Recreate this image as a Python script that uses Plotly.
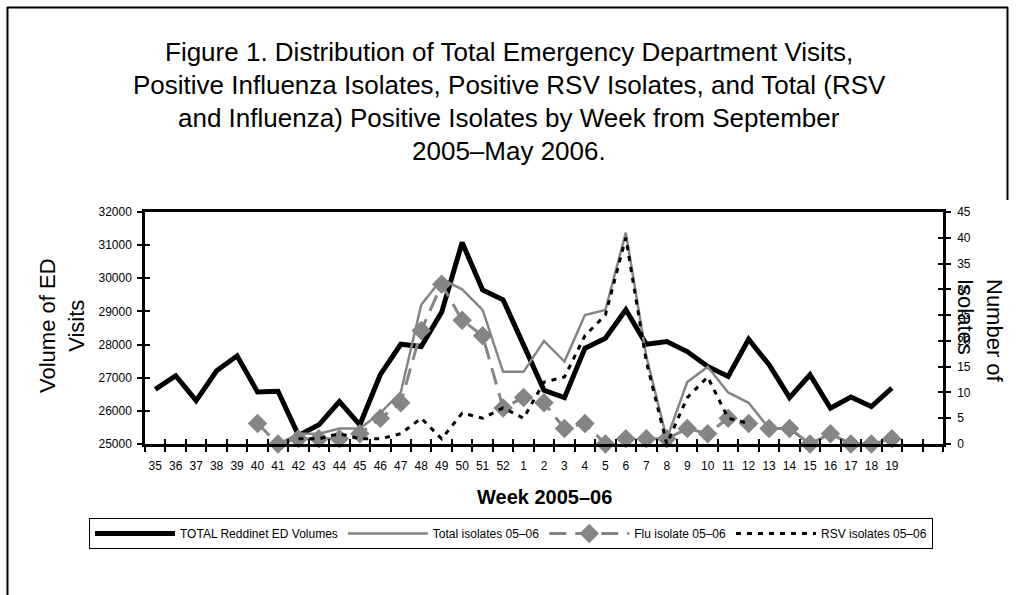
import plotly.graph_objects as go

weeks = [str(w) for w in range(35, 53)] + [str(w) for w in range(1, 20)]

ed_visits = [26650, 27060, 26310, 27210, 27660, 26570, 26590, 25260, 25580, 26280,
             25580, 27090, 28010, 27940, 28980, 31080, 29650, 29350,
             27990, 26620, 26400, 27890, 28190, 29050, 28010, 28090, 27790, 27340,
             27040, 28160, 27390, 26400, 27090, 26080, 26420, 26130, 26690]

total_isolates = [None, None, None, None, None, None,
                  0, 2, 2, 3, 3, 6, 10, 27, 32, 30, 26, 14,
                  14, 20, 16, 25, 26, 41, 17, 1, 12, 15, 10, 8, 3, 3, 0, 2, 0, 0, 1]

flu_isolates = [None, None, None, None, None,
                4, 0, 1, 1, 1, 2, 5, 8, 22, 31, 24, 21, 7,
                9, 8, 3, 4, 0, 1, 1, 1, 3, 2, 5, 4, 3, 3, 0, 2, 0, 0, 1]

rsv_isolates = [None, None, None, None, None, None, None,
                1, 1, 2, 1, 1, 2, 5, 1, 6, 5, 7,
                5, 12, 13, 21, 25, 40, 16, 0, 9, 13, 5, 4,
                None, None, None, None, None, None, None]

n_slots = 39  # 37 weeks + 2 empty category slots at the end
x_idx = list(range(len(weeks)))
boundaries = [i - 0.5 for i in range(n_slots + 1)]

W, H = 1016, 595
L, R, T, B = 145, 1016 - 943, 212, 595 - 444
PW, PH = W - L - R, H - T - B


def px(xp):
    return (xp - L) / PW


def py(yp):
    return 1 - (yp - T) / PH


FONT = "Liberation Sans, Arial, sans-serif"
GRAY = "#858585"

fig = go.Figure()

fig.add_trace(go.Scatter(x=x_idx, y=ed_visits, mode="lines", name="TOTAL Reddinet ED Volumes",
                         line=dict(color="black", width=5), yaxis="y"))
fig.add_trace(go.Scatter(x=x_idx, y=total_isolates, mode="lines", name="Total isolates 05\u201306",
                         line=dict(color=GRAY, width=2.5), yaxis="y2", cliponaxis=False))
fig.add_trace(go.Scatter(x=x_idx, y=flu_isolates, mode="lines+markers", name="Flu isolate 05\u201306",
                         line=dict(color=GRAY, width=3, dash="17px,9px"),
                         marker=dict(symbol="diamond", size=15, color=GRAY),
                         yaxis="y2", cliponaxis=False))
fig.add_trace(go.Scatter(x=x_idx, y=rsv_isolates, mode="lines", name="RSV isolates 05\u201306",
                         line=dict(color="black", width=3, dash="5px,6px"), yaxis="y2",
                         cliponaxis=False))

# invisible helper traces so the tick-overlay axes are drawn
fig.add_trace(go.Scatter(x=[0], y=[25000], mode="markers", marker=dict(opacity=0),
                         showlegend=False, hoverinfo="skip", xaxis="x2", yaxis="y3"))
fig.add_trace(go.Scatter(x=[0], y=[0], mode="markers", marker=dict(opacity=0),
                         showlegend=False, hoverinfo="skip", xaxis="x2", yaxis="y4"))

tickfont = dict(family=FONT, size=12, color="black")

fig.update_layout(
    width=W, height=H, autosize=False,
    margin=dict(l=L, r=R, t=T, b=B, autoexpand=False),
    paper_bgcolor="white", plot_bgcolor="white",
    showlegend=True,
    xaxis=dict(range=[-0.5, n_slots - 0.5], tickvals=x_idx, ticktext=weeks, ticks="",
               showline=True, linecolor="black", linewidth=2.5, mirror=True,
               showgrid=False, zeroline=False, tickfont=tickfont, ticklabelstandoff=9,
               automargin=False,
               minor=dict(tickvals=boundaries, ticks="outside", ticklen=5, tickwidth=2,
                          tickcolor="black", showgrid=False)),
    xaxis2=dict(range=[-0.5, n_slots - 0.5], overlaying="x", anchor="y3", side="bottom",
                tickvals=boundaries, ticks="inside", ticklen=5, tickwidth=2, tickcolor="black",
                showticklabels=False, showline=False, showgrid=False, zeroline=False,
                automargin=False),
    yaxis=dict(range=[25000, 32000], dtick=1000, tickformat="d", ticks="outside", ticklen=5,
               tickwidth=2, tickcolor="black", showline=True, linecolor="black", linewidth=2.5,
               showgrid=False, zeroline=False, tickfont=tickfont, ticklabelstandoff=3,
               automargin=False),
    yaxis2=dict(range=[0, 45], dtick=5, side="right", overlaying="y", ticks="outside",
                ticklen=5, tickwidth=2, tickcolor="black", showline=True, linecolor="black",
                linewidth=2.5, showgrid=False, zeroline=False, tickfont=tickfont,
                ticklabelstandoff=4, automargin=False),
    yaxis3=dict(range=[25000, 32000], dtick=1000, overlaying="y", side="left", anchor="x2",
                ticks="inside", ticklen=5, tickwidth=2, tickcolor="black",
                showticklabels=False, showline=False, showgrid=False, zeroline=False,
                automargin=False),
    yaxis4=dict(range=[0, 45], dtick=5, overlaying="y", side="right", anchor="x2",
                ticks="inside", ticklen=5, tickwidth=2, tickcolor="black",
                showticklabels=False, showline=False, showgrid=False, zeroline=False,
                automargin=False),
    legend=dict(orientation="h", x=px(89), y=py(518), xanchor="left", yanchor="top",
                bordercolor="black", borderwidth=1, bgcolor="white",
                font=dict(family=FONT, size=12, color="black"),
                itemwidth=80, tracegroupgap=0),
)

title_lines = [
    "Figure 1. Distribution of Total Emergency Department Visits,",
    "Positive Influenza Isolates, Positive RSV Isolates, and Total (RSV",
    "and Influenza) Positive Isolates by Week from September",
    "2005\u2013May 2006.",
]
for i, line in enumerate(title_lines):
    fig.add_annotation(text=line, x=px(509), y=py(52 + 33 * i), xref="paper", yref="paper",
                       xanchor="center", yanchor="middle", showarrow=False,
                       font=dict(family=FONT, size=26, color="black"))

fig.add_annotation(text="Volume of ED<br>Visits", textangle=-90, x=px(62), y=py(326),
                   xref="paper", yref="paper", xanchor="center", yanchor="middle",
                   showarrow=False, align="center",
                   font=dict(family=FONT, size=22, color="black"))
fig.add_annotation(text="Number of<br>Isolates", textangle=90, x=px(980), y=py(331),
                   xref="paper", yref="paper", xanchor="center", yanchor="middle",
                   showarrow=False, align="left",
                   font=dict(family=FONT, size=22, color="black"))
fig.add_annotation(text="<b>Week 2005\u201306</b>", x=px(544), y=py(497), xref="paper", yref="paper",
                   xanchor="center", yanchor="middle", showarrow=False,
                   font=dict(family=FONT, size=20, color="black"))

# outer frame
fig.add_shape(type="line", xref="paper", yref="paper", x0=px(7.5), x1=px(7.5), y0=py(7), y1=py(600),
              line=dict(color="black", width=2))
fig.add_shape(type="line", xref="paper", yref="paper", x0=px(7), x1=px(1008), y0=py(7.5), y1=py(7.5),
              line=dict(color="black", width=2))
fig.add_shape(type="line", xref="paper", yref="paper", x0=px(1007.5), x1=px(1007.5), y0=py(7), y1=py(200),
              line=dict(color="black", width=2))

fig.write_html("out.html", config={"displayModeBar": False},
               post_script="document.body.style.margin='0';document.body.style.overflow='hidden';")
